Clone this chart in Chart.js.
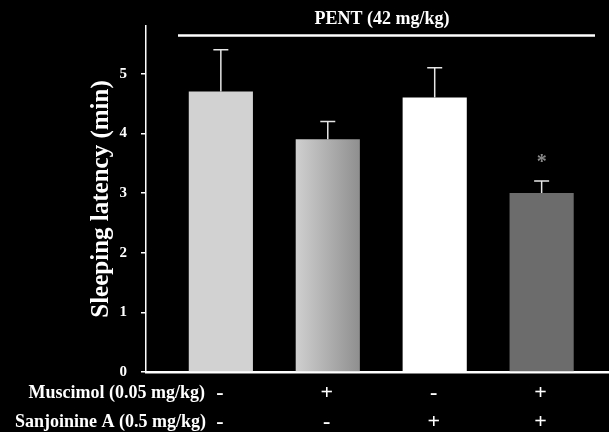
<!DOCTYPE html>
<html>
<head>
<meta charset="utf-8">
<script src="https://cdn.jsdelivr.net/npm/chart.js@4/dist/chart.umd.min.js"></script>
<style>
  html, body { margin: 0; padding: 0; background: #000; }
  #wrap { width: 609px; height: 432px; position: relative; }
</style>
</head>
<body>
<div id="wrap"><canvas id="c" width="609" height="432"></canvas></div>
<script>
// ---- data ----
const groups = [0, 1, 2, 3];
const latency = [4.7, 3.9, 4.6, 3.0];
const sem = [0.7, 0.3, 0.5, 0.2];
const significant = [false, false, false, true];
const muscimolRow = ['-', '+', '-', '+'];
const sanjoinineRow = ['-', '-', '+', '+'];
const rowLabels = ['Muscimol (0.05 mg/kg)', 'Sanjoinine A (0.5 mg/kg)'];
const yTicks = [0, 1, 2, 3, 4, 5];
const headerLabel = 'PENT (42 mg/kg)';
const yTitle = 'Sleeping latency (min)';

const SERIF = '"Liberation Serif", "DejaVu Serif", serif';

function makeFills(ctx) {
  const g = ctx.createLinearGradient(296, 0, 360, 0);
  g.addColorStop(0, '#cfcfcf');
  g.addColorStop(1, '#8f8f8f');
  return ['#d2d2d2', g, '#ffffff', '#6c6c6c'];
}

const overlay = {
  id: 'overlay',
  afterDatasetsDraw(chart) {
    const ctx = chart.ctx;
    const y = chart.scales.y;
    const x = chart.scales.x;
    const meta = chart.getDatasetMeta(0);
    ctx.save();
    // error bars
    ctx.strokeStyle = '#e6e6e6';
    ctx.lineWidth = 1.5;
    meta.data.forEach((bar, i) => {
      const top = y.getPixelForValue(latency[i] + sem[i]);
      const base = y.getPixelForValue(latency[i]);
      ctx.beginPath();
      ctx.moveTo(bar.x, base);
      ctx.lineTo(bar.x, top);
      ctx.moveTo(bar.x - 7.5, top);
      ctx.lineTo(bar.x + 7.5, top);
      ctx.stroke();
      if (significant[i]) {
        ctx.fillStyle = '#8a8a8a';
        ctx.font = 'bold 20px ' + SERIF;
        ctx.textAlign = 'center';
        ctx.textBaseline = 'middle';
        ctx.fillText('*', bar.x, top - 18);
      }
    });
    // header line and label
    ctx.strokeStyle = '#ffffff';
    ctx.lineWidth = 2.5;
    ctx.beginPath();
    ctx.moveTo(178, 35.5);
    ctx.lineTo(595, 35.5);
    ctx.stroke();
    ctx.fillStyle = '#ffffff';
    ctx.font = 'bold 18px ' + SERIF;
    ctx.textAlign = 'center';
    ctx.textBaseline = 'alphabetic';
    ctx.fillText(headerLabel, 382, 24);
    // treatment rows
    ctx.font = 'bold 18px ' + SERIF;
    ctx.textAlign = 'right';
    ctx.textBaseline = 'middle';
    ctx.fillText(rowLabels[0], 205, 393);
    ctx.fillText(rowLabels[1], 206, 422);
    ctx.font = 'bold 22px ' + SERIF;
    ctx.textAlign = 'center';
    groups.forEach((g, i) => {
      const px = x.getPixelForValue(g) - 1;
      ctx.fillText(muscimolRow[i], px, 393);
      ctx.fillText(sanjoinineRow[i], px, 422);
    });
    ctx.restore();
  }
};

const ctx = document.getElementById('c').getContext('2d');
new Chart(ctx, {
  type: 'bar',
  data: {
    datasets: [{
      data: groups.map((g, i) => ({ x: g, y: latency[i] })),
      backgroundColor: makeFills(ctx),
      borderWidth: 0,
      barPercentage: 0.6,
      categoryPercentage: 1.0
    }]
  },
  options: {
    responsive: false,
    animation: false,
    devicePixelRatio: 1,
    layout: { padding: { top: 26, bottom: 60, left: 0, right: 0 } },
    plugins: { legend: { display: false }, tooltip: { enabled: false } },
    scales: {
      x: {
        type: 'linear',
        min: -0.7,
        max: 3.63,
        offset: false,
        afterBuildTicks(scale) { scale.ticks = groups.map(v => ({ value: v })); },
        grid: { display: false },
        ticks: { display: false },
        border: { display: true, color: '#ffffff', width: 2.5 },
        afterFit(scale) { scale.height = 0; }
      },
      y: {
        min: 0,
        max: 5.8,
        afterFit(scale) { scale.width = 146; },
        afterBuildTicks(scale) { scale.ticks = yTicks.map(v => ({ value: v })); },
        ticks: {
          color: '#ffffff',
          font: { family: SERIF, size: 15, weight: 'bold' },
          padding: 14
        },
        grid: { display: true, drawOnChartArea: false, tickLength: 5, color: '#ffffff', lineWidth: 1.5 },
        border: { display: true, color: '#ffffff', width: 1.5 },
        title: {
          display: true,
          text: yTitle,
          color: '#ffffff',
          font: { family: SERIF, size: 25, weight: 'bold' },
          padding: { top: 87, bottom: 0 }
        }
      }
    }
  },
  plugins: [overlay]
});
</script>
</body>
</html>
